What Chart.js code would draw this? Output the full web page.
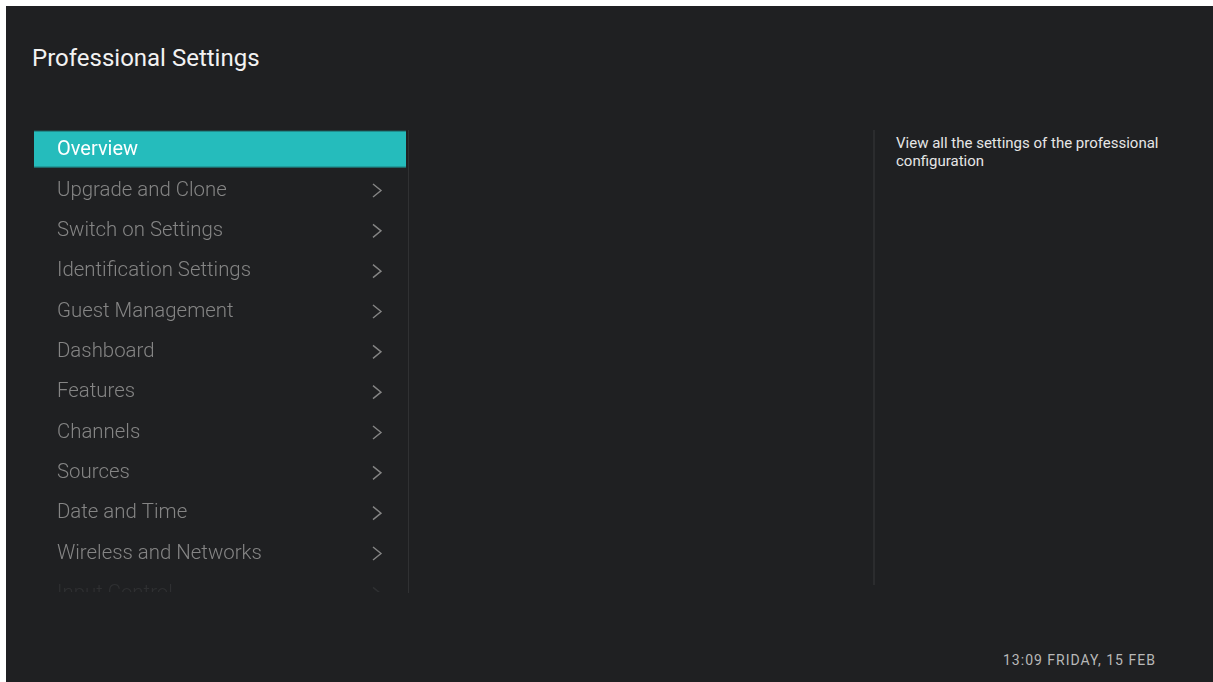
<!DOCTYPE html>
<html>
<head>
<meta charset="utf-8">
<script src="https://cdn.jsdelivr.net/npm/chart.js@4"></script>
<style>
  html, body { margin: 0; padding: 0; background: #ffffff; width: 1213px; height: 682px; overflow: hidden; }
  #screen { position: absolute; left: 6px; top: 6px; width: 1207px; height: 676px; background: #1f2022; font-family: Roboto, sans-serif; }
  #title { position: absolute; left: 26px; top: 38px; color: #f2f2f2; font-size: 24px; }
  #menuWrap { position: absolute; left: 28px; top: 123px; width: 372px; height: 463px; overflow: hidden; }
  #divider1 { position: absolute; left: 402px; top: 124px; width: 1px; height: 463px; background: #303133; }
  #divider2 { position: absolute; left: 867px; top: 124px; width: 2px; height: 455px; background: #2b2c2e; }
  #desc { position: absolute; left: 890px; top: 128px; width: 300px; color: #e6e6e6; font-size: 15px; line-height: 18px; }
  #clock { position: absolute; left: 997px; top: 646px; color: #b8b8b8; font-size: 14px; letter-spacing: 1px; }
</style>
</head>
<body>
<div id="screen">
  <div id="title">Professional Settings</div>
  <div id="menuWrap"><canvas id="menu" width="372" height="484"></canvas></div>
  <div id="divider1"></div>
  <div id="divider2"></div>
  <div id="desc">View all the settings of the professional configuration</div>
  <div id="clock">13:09 FRIDAY, 15 FEB</div>
</div>
<script>
const menuItems = ["Overview", "Upgrade and Clone", "Switch on Settings", "Identification Settings",
  "Guest Management", "Dashboard", "Features", "Channels", "Sources", "Date and Time",
  "Wireless and Networks", "Input Control"]
// 1 = selected row, 0 = not selected
const selected = [1, 0, 0, 0, 0, 0, 0, 0, 0, 0, 0, 0]
// 1 = row has a submenu chevron
const hasChevron = [0, 1, 1, 1, 1, 1, 1, 1, 1, 1, 1, 1]

const rowColor = (i) => {
  if (selected[i]) return '#ffffff'
  if (i === menuItems.length - 1) return '#2f3032'
  return '#858585'
}

// menu labels and chevrons, placed on the category scale
const menuText = {
  id: 'menuText',
  afterDatasetsDraw(chart) {
    const ctx = chart.ctx
    const y = chart.scales.y
    const x = chart.scales.x
    ctx.save()
    ctx.textBaseline = 'middle'
    ctx.textAlign = 'left'
    ctx.lineWidth = 1.4
    menuItems.forEach((label, i) => {
      const cy = y.getPixelForValue(i) + 1
      ctx.font = selected[i] ? '400 20px Roboto' : '300 20.4px Roboto'
      ctx.fillStyle = rowColor(i)
      ctx.fillText(label, x.left + 23, cy)
      if (!hasChevron[i]) return
      const cx = x.right - 29
      ctx.strokeStyle = rowColor(i)
      ctx.beginPath()
      ctx.moveTo(cx - 4, cy - 6.5)
      ctx.lineTo(cx + 4, cy)
      ctx.lineTo(cx - 4, cy + 6.5)
      ctx.stroke()
    })
    ctx.restore()
  }
}

new Chart(document.getElementById('menu'), {
  type: 'bar',
  data: {
    labels: menuItems,
    datasets: [{
      data: selected,
      backgroundColor: '#25bcbc',
      borderColor: '#1f9c9c',
      borderWidth: {top: 1, bottom: 1, left: 0, right: 0},
      borderSkipped: false,
      barPercentage: 0.92,
      categoryPercentage: 1
    }]
  },
  options: {
    indexAxis: 'y',
    responsive: false,
    animation: false,
    devicePixelRatio: 1,
    layout: { padding: 0 },
    plugins: { legend: { display: false }, tooltip: { enabled: false } },
    scales: {
      x: { display: false, min: 0, max: 1 },
      y: { display: false }
    }
  },
  plugins: [menuText]
})
</script>
</body>
</html>
